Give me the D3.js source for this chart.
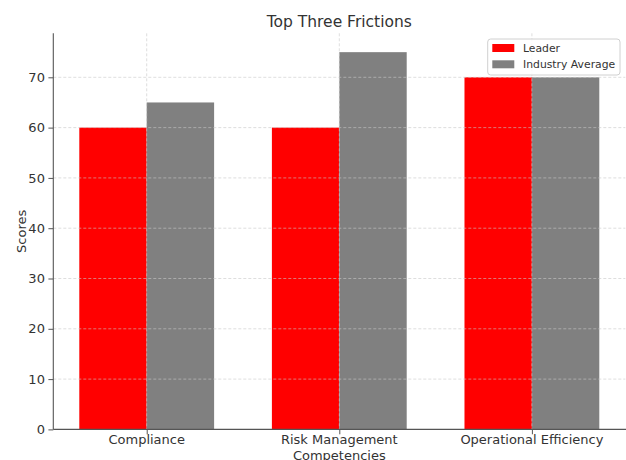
<!DOCTYPE html>
<html><head><meta charset="utf-8">
<script src="https://cdn.jsdelivr.net/npm/d3@7"></script>
<style>body{margin:0;background:#fff;} svg{display:block;font-family:"DejaVu Sans",sans-serif;}</style>
</head><body>
<svg id="c" width="626" height="460"></svg>
<script>
const categories = ["Compliance", "Risk Management\nCompetencies", "Operational Efficiency"];
const seriesNames = ["Leader", "Industry Average"];
const leaderValues = [60, 60, 70];
const industryValues = [65, 75, 70];
const yTicks = [0, 10, 20, 30, 40, 50, 60, 70];
const colors = ["#ff0000", "#808080"];

(function () {
const svg = d3.select("#c");
const pLeft = 53.3, pRight = 625.3, pTop = 33.3, pBottom = 429.4;
const barW = 0.35;
const x = d3.scaleLinear().domain([-0.485, 2.485]).range([pLeft, pRight]);
const y = d3.scaleLinear().domain([0, 78.75]).range([pBottom, pTop]);
const series = [leaderValues, industryValues];

// bars
series.forEach((vals, si) => {
  svg.append("g").selectAll("rect").data(vals).join("rect")
    .attr("x", (d, i) => x(i + (si === 0 ? -barW : 0)))
    .attr("width", (d, i) => x(i + barW) - x(i))
    .attr("y", d => y(d))
    .attr("height", d => y(0) - y(d))
    .attr("fill", colors[si]);
});

// grid on top
const grid = svg.append("g").attr("stroke", "#c8c8c8").attr("stroke-opacity", 0.75)
  .attr("stroke-width", 0.8).attr("stroke-dasharray", "3,2").attr("fill", "none");
yTicks.slice(1).forEach(t => grid.append("line").attr("x1", pLeft).attr("x2", pRight).attr("y1", y(t)).attr("y2", y(t)));
categories.forEach((c, i) => grid.append("line").attr("x1", x(i)).attr("x2", x(i)).attr("y1", pTop).attr("y2", pBottom));

// axes
const yAxis = d3.axisLeft(y).tickValues(yTicks).tickSize(4.9).tickPadding(3.5);
const gy = svg.append("g").attr("transform", `translate(${pLeft},0)`).call(yAxis);
gy.select(".domain").remove();
gy.selectAll(".tick line").attr("stroke", "#555");
gy.selectAll("text").attr("fill", "#333").attr("font-size", 13).attr("font-family", "DejaVu Sans");

const xAxis = d3.axisBottom(x).tickValues([0, 1, 2]).tickSize(4.9).tickFormat("");
const gx = svg.append("g").attr("transform", `translate(0,${pBottom})`).call(xAxis);
gx.select(".domain").remove();
gx.selectAll(".tick line").attr("stroke", "#555");
categories.forEach((c, i) => {
  const t = svg.append("text").attr("text-anchor", "middle").attr("fill", "#333")
    .attr("font-size", 13).attr("x", x(i)).attr("y", 444);
  c.split("\n").forEach((line, k) => t.append("tspan").attr("x", x(i)).attr("dy", k === 0 ? 0 : 15.5).text(line));
});

// spines
svg.append("line").attr("x1", pLeft).attr("x2", pLeft).attr("y1", pTop).attr("y2", pBottom).attr("stroke", "#555").attr("stroke-width", 1.1);
svg.append("line").attr("x1", pLeft).attr("x2", pRight + 1).attr("y1", pBottom).attr("y2", pBottom).attr("stroke", "#555").attr("stroke-width", 1.1);

// title & labels
svg.append("text").attr("x", (pLeft + pRight) / 2).attr("y", 26.7).attr("text-anchor", "middle")
  .attr("font-size", 15.5).attr("fill", "#333").text("Top Three Frictions");
svg.append("text").attr("transform", `translate(26,${(pTop + pBottom) / 2}) rotate(-90)`)
  .attr("text-anchor", "middle").attr("font-size", 13).attr("fill", "#333").text("Scores");

// legend
const lg = svg.append("g");
lg.append("rect").attr("x", 487.7).attr("y", 39).attr("width", 132.3).attr("height", 36)
  .attr("rx", 3).attr("fill", "#fff").attr("fill-opacity", 0.8).attr("stroke", "#d0d0d0");
seriesNames.forEach((n, i) => {
  lg.append("rect").attr("x", 492.3).attr("y", 44 + i * 16.3).attr("width", 22).attr("height", 8).attr("fill", colors[i]);
  lg.append("text").attr("x", 523).attr("y", 52 + i * 16.3).attr("font-size", 10.8).attr("fill", "#333").text(n);
});
})();
</script>
</body></html>
